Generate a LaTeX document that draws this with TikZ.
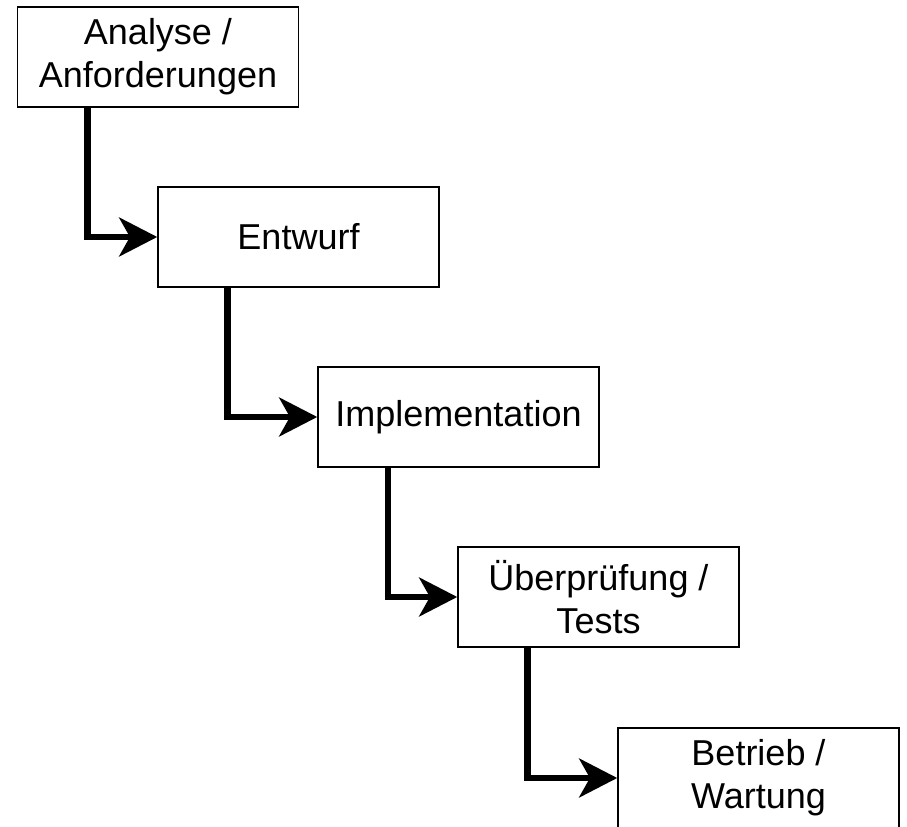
\documentclass[tikz,border=0pt]{standalone}
\usepackage{fontspec}
\setmainfont{Liberation Sans}
\usetikzlibrary{arrows.meta}
\begin{document}
\begin{tikzpicture}[x=0.75pt,y=-0.75pt,line join=miter,>={Stealth[length=28.5pt,width=29pt,inset=8pt]}]
	\tikzset{phase/.style={draw,line width=1.1pt,minimum width=210.75pt,minimum height=75pt,inner sep=0pt,align=center,font=\fontsize{27}{32}\selectfont},
		flow/.style={->,line width=5pt}}
	\useasboundingbox (0,0) rectangle (907,827);
	\node[phase] (ana) at (158,57) {Analyse /\\Anforderungen};
	\node[phase] (ent) at (298.5,237) {Entwurf};
	\node[phase] (imp) at (458.5,417) {Implementation};
	\node[phase] (test) at (598.5,597) {Überprüfung /\\Tests};
	\node[phase] (betr) at (758.5,778) {Betrieb /\\Wartung};
	\draw[flow] ([xshift=53pt]ana.south west) |- (ent.west);
	\draw[flow] ([xshift=52.5pt]ent.south west) |- (imp.west);
	\draw[flow] ([xshift=53pt]imp.south west) |- (test.west);
	\draw[flow] ([xshift=52.5pt]test.south west) |- (betr.west);
\end{tikzpicture}
\end{document}
